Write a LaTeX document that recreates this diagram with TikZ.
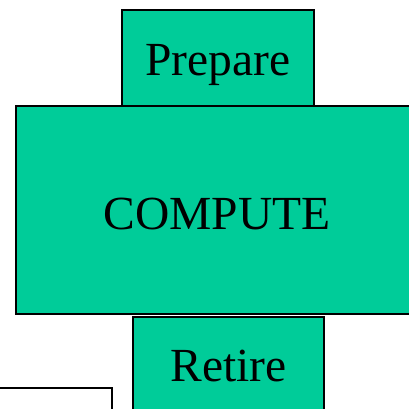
\documentclass[tikz,border=0pt]{standalone}
\usepackage{fontspec}
\setmainfont{Liberation Serif}
\definecolor{stagegreen}{HTML}{00CC99}
\begin{document}
\begin{tikzpicture}[x=1pt,y=-1pt,
  stagebox/.style={draw=black, line width=1.7pt, fill=stagegreen, rectangle,
    inner sep=0pt, text depth=0pt, font=\fontsize{47.5}{47.5}\selectfont},
  plainbox/.style={draw=black, line width=1.7pt, fill=white, rectangle, inner sep=0pt}]
  \useasboundingbox (0,0) rectangle (408,409);
  % pipeline stages; text height sets where each baseline sits in its box
  \node[stagebox, minimum width=192pt, minimum height=96pt, text height=35.4pt]
    (prepare) at (218,58) {Prepare};
  \node[stagebox, minimum width=402pt, minimum height=208pt, text height=38pt]
    (compute) at (217,210) {COMPUTE};
  \node[stagebox, minimum width=191pt, minimum height=100pt, text height=30pt]
    (retire) at (228.5,366.7) {Retire};
  % partially visible box at lower left
  \node[plainbox, minimum width=120pt, minimum height=40pt] (side) at (52,408) {};
\end{tikzpicture}
\end{document}
